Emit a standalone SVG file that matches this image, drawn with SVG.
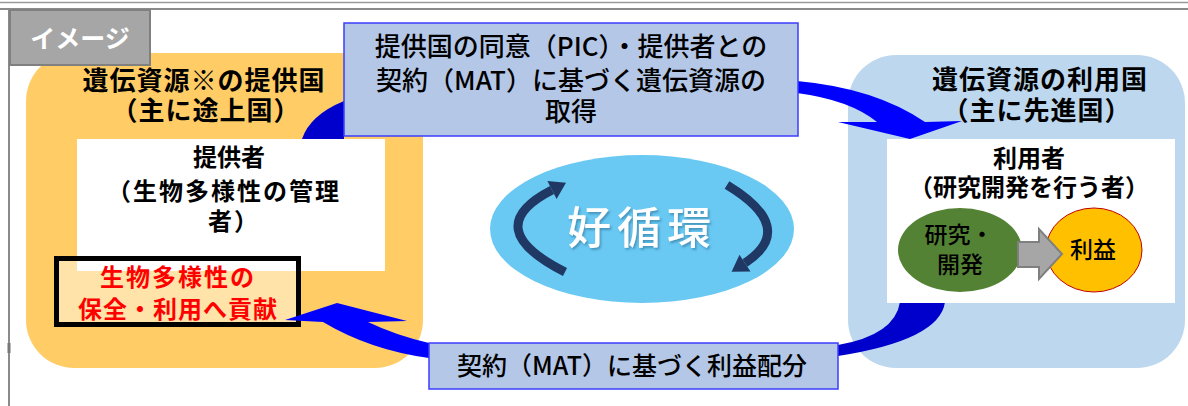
<svg xmlns="http://www.w3.org/2000/svg" width="1188" height="406" viewBox="0 0 1188 406">
<defs>
<style>
.t{font-family:"Noto Sans CJK JP","Noto Sans",sans-serif;text-anchor:middle;fill:#000}
.b{font-weight:700}
.m{font-weight:500}
.lbl{fill:#b4c7e7;stroke:#3c3cff;stroke-width:1.5}
.navy{fill:none;stroke:#1f3864;stroke-width:9}
</style>
<filter id="sh" x="-10%" y="-20%" width="130%" height="150%">
<feDropShadow dx="1.5" dy="2" stdDeviation="1.2" flood-color="#2f6f96" flood-opacity="0.6"/>
</filter>
</defs>
<rect width="1188" height="406" fill="#fff"/>
<g id="frame">
<line x1="0" y1="2.5" x2="1188" y2="2.5" stroke="#9a9a9a" stroke-width="1.5"/>
<line x1="0" y1="9" x2="1188" y2="9" stroke="#8a8a8a" stroke-width="2"/>
<line x1="9" y1="10" x2="9" y2="406" stroke="#8a8a8a" stroke-width="2"/>
<rect x="7.5" y="343" width="3" height="10" fill="#777"/>
</g>
<g id="provider-country">
<rect x="26" y="53" width="397" height="315" rx="48" fill="#ffcc66"/>
</g>
<g id="user-country">
<rect x="848" y="55" width="337" height="313" rx="48" fill="#bdd7ee"/>
</g>
<g id="connectors-back">
<path d="M302,139 Q310,115 344,101 L344,139 Z" fill="#0000cc"/>
<path d="M838,345 Q895,335 900,302 L945,302 Q940,340 838,356 Z" fill="#0000cc"/>
</g>
<g id="provider">
<rect x="77" y="139" width="308" height="132" fill="#fff"/>
<text class="t b" font-size="24" x="229" y="166">提供者</text>
<text class="t b" font-size="24" x="224" y="200" letter-spacing="2">（生物多様性の管理</text>
<text class="t b" font-size="24" x="234" y="230" letter-spacing="2">者）</text>
</g>
<g id="contribution">
<rect x="56.5" y="258.5" width="242" height="66" fill="#ffe3a8"/>
<rect x="77" y="258.5" width="221.5" height="12.5" fill="#fff"/>
<rect x="56.5" y="258.5" width="242" height="66" fill="none" stroke="#000" stroke-width="5"/>
<text class="t b" font-size="24" x="178" y="286" fill="#ff0000" style="fill:#ff0000" letter-spacing="2">生物多様性の</text>
<text class="t b" font-size="24" x="178" y="318" style="fill:#ff0000" letter-spacing="1">保全・利用へ貢献</text>
</g>
<g id="user">
<rect x="887" y="139" width="288" height="164" fill="#fff"/>
<text class="t b" font-size="24" x="1029" y="167">利用者</text>
<text class="t b" font-size="24" x="1029" y="196">（研究開発を行う者）</text>
</g>
<g id="rnd">
<ellipse cx="960" cy="250" rx="62" ry="42" fill="#548235"/>
<text class="t m" font-size="23" x="959" y="243">研究・</text>
<text class="t m" font-size="23" x="960" y="273">開発</text>
</g>
<g id="profit">
<ellipse cx="1094" cy="250" rx="48" ry="42" fill="#ffc000" stroke="#c00000" stroke-width="1"/>
<text class="t m" font-size="23" x="1093" y="258">利益</text>
</g>
<g id="rnd-to-profit">
<polygon points="1018,242 1039,242 1039,229 1062,254 1039,279 1039,267 1018,267" fill="#a6a6a6" stroke="#7f7f7f" stroke-width="2"/>
</g>
<g id="connectors">
<path d="M797,81 Q875,88 925,122 L962,121 L910,139 L838,122 L877,122 Q850,100 797,93 Z" fill="#0000ff"/>
<path d="M285,320 L337,303 L407,321 L368,322 Q395,335 429,343 L429,358 Q370,350 323,322 Z" fill="#0000ff"/>
</g>
<g id="acquisition">
<rect class="lbl" x="344" y="23" width="454" height="113"/>
<text class="t m" font-size="26" x="571" y="56">提供国の同意（PIC）・提供者との</text>
<text class="t m" font-size="26" x="571" y="90">契約（MAT）に基づく遺伝資源の</text>
<text class="t m" font-size="26" x="571" y="121">取得</text>
</g>
<g id="benefit-sharing">
<rect class="lbl" x="429" y="343" width="409" height="46"/>
<text class="t m" font-size="25" x="632" y="375">契約（MAT）に基づく利益配分</text>
</g>
<g id="image-tag">
<rect x="10" y="10" width="140" height="55" fill="#a6a6a6" stroke="#808080" stroke-width="2"/>
<text class="t b" font-size="25" x="80" y="48" style="fill:#fff">イメージ</text>
</g>
<g id="titles">
<text class="t b" font-size="26" x="204" y="90" letter-spacing="1">遺伝資源※の提供国</text>
<text class="t b" font-size="26" x="206" y="120" letter-spacing="1">（主に途上国）</text>
<text class="t b" font-size="26" x="1040" y="89" letter-spacing="1">遺伝資源の利用国</text>
<text class="t b" font-size="26" x="1037" y="120" letter-spacing="1">（主に先進国）</text>
</g>
<g id="cycle">
<ellipse cx="642" cy="229" rx="152" ry="74" fill="#69c9f3"/>
<path class="navy" d="M565,272 Q478,228 552,190"/>
<polygon points="566,182.7 556.6,198.9 547.4,181.1" fill="#1f3864"/>
<path class="navy" d="M727,185 Q798,228 745,263"/>
<polygon points="731.6,271.8 750.5,271.4 739.5,254.7" fill="#1f3864"/>
<text class="t m" font-size="44" x="642" y="244" letter-spacing="6" style="fill:#fff" filter="url(#sh)">好循環</text>
</g>
</svg>
